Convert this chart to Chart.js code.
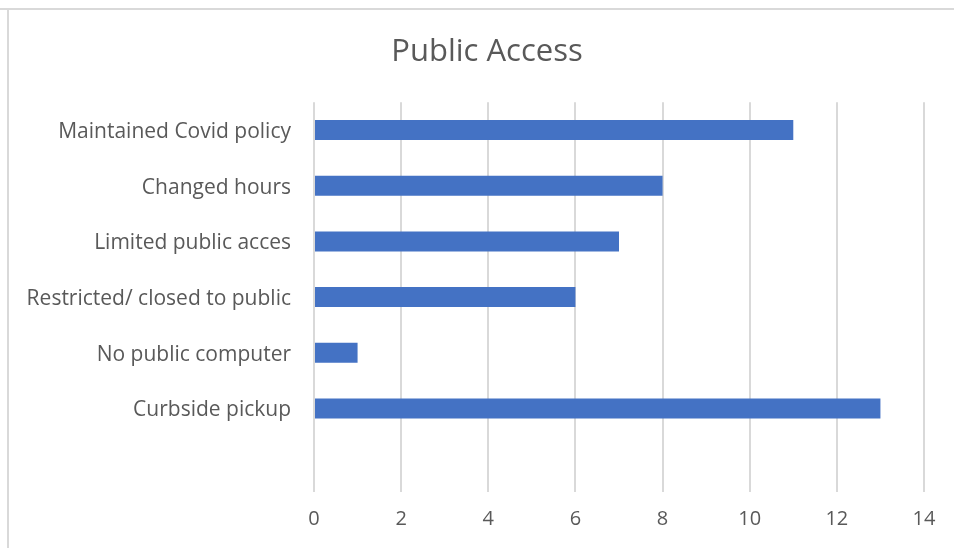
<!DOCTYPE html>
<html>
<head>
<meta charset="utf-8">
<script src="https://cdn.jsdelivr.net/npm/chart.js@4"></script>
<style>
  html, body { margin: 0; padding: 0; background: #ffffff; }
  #wrap { position: relative; width: 954px; height: 548px; overflow: hidden; }
  #topline { position: absolute; left: 0; top: 8px; width: 954px; height: 2px; background: #d9d9d9; }
  #leftline { position: absolute; left: 7px; top: 8px; width: 2px; height: 540px; background: #d9d9d9; }
  canvas { position: absolute; left: 0; top: 0; }
</style>
</head>
<body>
<div id="wrap">
  <div id="topline"></div>
  <div id="leftline"></div>
  <canvas id="c" width="954" height="548"></canvas>
</div>
<script>
const categories = ["Maintained Covid policy", "Changed hours", "Limited public acces", "Restricted/ closed to public", "No public computer", "Curbside pickup", ""];
const values = [11, 8, 7, 6, 1, 13, null];
const xTicks = [0, 2, 4, 6, 8, 10, 12, 14];

const FONT = "'Open Sans', Lato, sans-serif";

new Chart(document.getElementById('c'), {
  type: 'bar',
  data: {
    labels: categories,
    datasets: [{
      data: values,
      backgroundColor: '#4472C4',
      borderWidth: 0,
      barPercentage: 0.36,
      categoryPercentage: 1.0
    }]
  },
  options: {
    indexAxis: 'y',
    responsive: false,
    animation: false,
    layout: { padding: { left: 20, right: 0, top: 0, bottom: 0 } },
    plugins: {
      legend: { display: false },
      tooltip: { enabled: false },
      title: {
        display: true,
        text: 'Public Access',
        color: '#595959',
        font: { family: FONT, size: 31, weight: 'normal' },
        padding: { top: 34, bottom: 31 }
      }
    },
    scales: {
      x: {
        min: 0, max: 14,
        afterBuildTicks: s => { s.ticks = xTicks.map(v => ({ value: v })); },
        afterFit: s => { s.height = 56; },
        grid: { color: '#d9d9d9', lineWidth: 2, drawTicks: false },
        border: { display: false },
        ticks: { color: '#595959', font: { family: FONT, size: 20 }, padding: 15 }
      },
      y: {
        afterFit: s => { s.width = 294; },
        grid: { display: false, drawTicks: false },
        border: { display: false },
        ticks: { color: '#595959', font: { family: FONT, size: 21 }, padding: 23, autoSkip: false, labelOffset: 2 }
      },
      y2: {
        position: 'right',
        afterFit: s => { s.width = 30; },
        grid: { display: false, drawTicks: false },
        border: { display: false },
        ticks: { display: false }
      }
    }
  }
});
</script>
</body>
</html>
